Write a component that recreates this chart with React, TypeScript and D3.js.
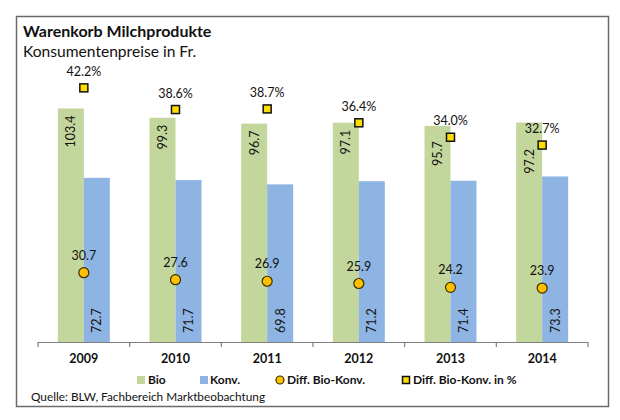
import React from "react";
import * as d3 from "d3";

const years = ["2009", "2010", "2011", "2012", "2013", "2014"];
const bio = [103.4, 99.3, 96.7, 97.1, 95.7, 97.2];
const konv = [72.7, 71.7, 69.8, 71.2, 71.4, 73.3];
const diff = [30.7, 27.6, 26.9, 25.9, 24.2, 23.9];
const diffPct = [42.2, 38.6, 38.7, 36.4, 34.0, 32.7];

const FONT = "Lato, 'Open Sans', sans-serif";
const GREEN = "#c3d69b";
const BLUE = "#8eb4e3";
const CIRCLE = "#ffc000";
const SQUARE = "#ffdd00";

const W = 620;
const H = 420;
const plot = { left: 38, right: 588, top: 71, bottom: 342 };

export default function App() {
  const x = d3.scaleBand<string>().domain(years).range([plot.left, plot.right]).paddingInner(0).paddingOuter(0);
  const bw = 26; // single bar width
  const y = d3.scaleLinear().domain([0, 120]).range([plot.bottom, plot.top]);
  const y2 = d3.scaleLinear().domain([0, 45]).range([plot.bottom, plot.top]);

  const center = (yr: string) => (x(yr) ?? 0) + x.bandwidth() / 2;
  const ticks = [...years.map((yr) => x(yr) ?? 0), plot.right];

  return (
    <div style={{ position: "absolute", left: 0, top: 0 }}>
      <svg width={W} height={H} style={{ display: "block", background: "#fff" }} fontFamily={FONT}>
        <rect x={16.5} y={16.5} width={592} height={390} fill="#fff" stroke="#6b6b6b" strokeWidth={1.5} />

        <text x={23} y={37} fontSize={16} fontWeight="bold" fill="#111">
          Warenkorb Milchprodukte
        </text>
        <text x={23} y={57} fontSize={15.6} fill="#111">
          Konsumentenpreise in Fr.
        </text>

        {/* bars */}
        {years.map((yr, i) => {
          const c = center(yr);
          // push the bio label below the % marker when they would collide
          const labelTop = Math.max(y(bio[i]) + 7, y2(diffPct[i]) + 4);
          return (
            <g key={"b" + yr}>
              <rect x={c - bw} y={y(bio[i])} width={bw} height={plot.bottom - y(bio[i])} fill={GREEN} />
              <rect x={c} y={y(konv[i])} width={bw} height={plot.bottom - y(konv[i])} fill={BLUE} />
              <text
                transform={`translate(${c - bw / 2 + 4.5},${labelTop}) rotate(-90)`}
                textAnchor="end"
                fontSize={12.5}
                fill="#111"
              >
                {bio[i].toFixed(1)}
              </text>
              <text
                transform={`translate(${c + bw / 2 + 4.5},${plot.bottom - 9}) rotate(-90)`}
                textAnchor="start"
                fontSize={12.5}
                fill="#111"
              >
                {konv[i].toFixed(1)}
              </text>
            </g>
          );
        })}

        {/* axis */}
        <line x1={plot.left} x2={plot.right} y1={plot.bottom + 0.5} y2={plot.bottom + 0.5} stroke="#7f7f7f" strokeWidth={1} />
        {ticks.map((t, i) => (
          <line key={"t" + i} x1={t} x2={t} y1={plot.bottom} y2={plot.bottom + 5} stroke="#7f7f7f" strokeWidth={1.2} />
        ))}
        {years.map((yr) => (
          <text key={"l" + yr} x={center(yr)} y={363} textAnchor="middle" fontSize={12.5} fontWeight="bold" fill="#111">
            {yr}
          </text>
        ))}

        {/* diff circles */}
        {years.map((yr, i) => {
          const c = center(yr);
          const cy = y(diff[i]);
          return (
            <g key={"d" + yr}>
              <circle cx={c} cy={cy} r={5} fill={CIRCLE} stroke="#3a2e00" strokeWidth={1.2} />
              <text x={c} y={cy - 13} textAnchor="middle" fontSize={12.5} fill="#111">
                {diff[i].toFixed(1)}
              </text>
            </g>
          );
        })}

        {/* diff % squares */}
        {years.map((yr, i) => {
          const c = center(yr);
          const cy = y2(diffPct[i]);
          return (
            <g key={"p" + yr}>
              <rect x={c - 4} y={cy - 4} width={8} height={8} fill={SQUARE} stroke="#111" strokeWidth={1.5} />
              <text x={c} y={cy - 12} textAnchor="middle" fontSize={12.5} fill="#111">
                {diffPct[i].toFixed(1) + "%"}
              </text>
            </g>
          );
        })}

        {/* legend */}
        <g fontSize={12} fontWeight="bold" fill="#111">
          <rect x={137} y={376} width={8} height={8} fill={GREEN} />
          <text x={148} y={384}>Bio</text>
          <rect x={200} y={376} width={8} height={8} fill={BLUE} />
          <text x={210} y={384}>Konv.</text>
          <circle cx={280} cy={380} r={4} fill={CIRCLE} stroke="#3a2e00" strokeWidth={1.2} />
          <text x={287} y={384}>Diff. Bio-Konv.</text>
          <rect x={402.5} y={376.5} width={7} height={7} fill={SQUARE} stroke="#111" strokeWidth={1.5} />
          <text x={413} y={384}>Diff. Bio-Konv. in %</text>
        </g>

        <text x={31} y={401} fontSize={11.8} fill="#111">
          Quelle: BLW, Fachbereich Marktbeobachtung
        </text>
      </svg>
    </div>
  );
}
